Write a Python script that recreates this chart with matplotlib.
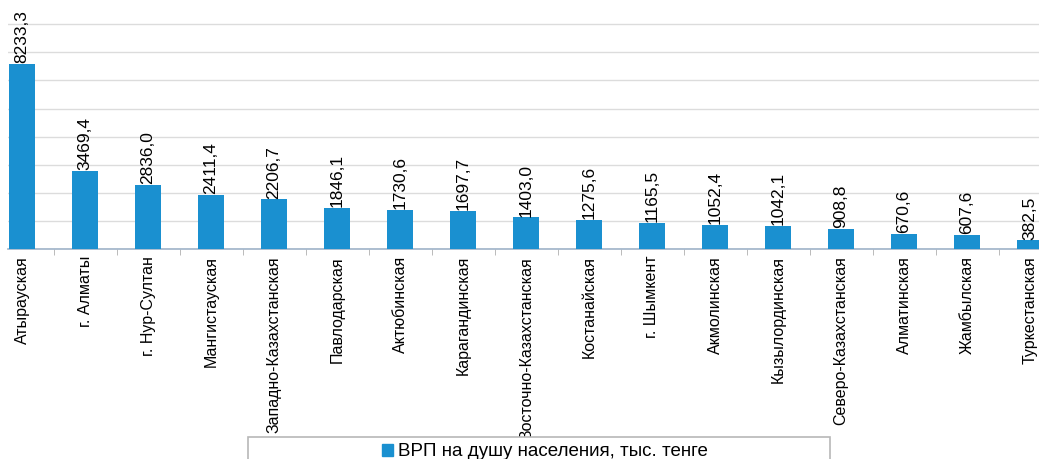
import matplotlib.pyplot as plt
import matplotlib.patches as mpatches
from matplotlib.ticker import MultipleLocator, FixedLocator

# regions and GRP per capita, thousand tenge
regions = ['Атырауская', 'г. Алматы', 'г. Нур-Султан', 'Мангистауская',
           'Западно-Казахстанская', 'Павлодарская', 'Актюбинская',
           'Карагандинская', 'Восточно-Казахстанская', 'Костанайская',
           'г. Шымкент', 'Акмолинская', 'Кызылординская',
           'Северо-Казахстанская', 'Алматинская', 'Жамбылская',
           'Туркестанская']
values = [8233.3, 3469.4, 2836.0, 2411.4, 2206.7, 1846.1, 1730.6, 1697.7,
          1403.0, 1275.6, 1165.5, 1052.4, 1042.1, 908.8, 670.6, 607.6, 382.5]
labels = [f'{v:.1f}'.replace('.', ',') for v in values]

W, H = 1039, 459
fig = plt.figure(figsize=(W / 100, H / 100), dpi=100)
ax = fig.add_axes([8 / W, 1 - 249 / H, 1 - 8 / W, (249 - 15) / H])

color = '#1a90d0'
x = list(range(len(regions)))
bars = ax.bar(x, values, width=0.41, color=color, zorder=3)

ax.set_xlim(-14 / 63, -14 / 63 + (W - 8) / 63)
ax.set_ylim(0, 234 * 44.5)
ax.yaxis.set_major_locator(MultipleLocator(1250))
ax.grid(axis='y', color='#dcdcdc', linewidth=1, zorder=0)
ax.set_yticklabels([])
ax.tick_params(axis='y', length=0)

for s in ['top', 'right', 'left']:
    ax.spines[s].set_visible(False)
ax.spines['bottom'].set_color('#9fb3c8')
ax.spines['bottom'].set_linewidth(1.2)

ax.set_xticks(x)
ax.set_xticklabels(regions, rotation=90, fontsize=11.5, family='Liberation Sans',
                   va='top')
ax.tick_params(axis='x', length=0, pad=5)
ax.xaxis.set_minor_locator(FixedLocator([i + 0.5 for i in x]))
ax.tick_params(axis='x', which='minor', length=4, color='#b0b0b0',
               direction='out')

for b, lab in zip(bars, labels):
    ax.text(b.get_x() + b.get_width() / 2, b.get_height() + 40, lab,
            rotation=90, ha='center', va='bottom', fontsize=12.5,
            family='Liberation Sans', clip_on=False, zorder=4)

# legend box, cut by the bottom edge like the source
box = mpatches.Rectangle((248 / W, -0.02), (830 - 248) / W, (459 - 437) / H + 0.02,
                         transform=fig.transFigure, facecolor='white',
                         edgecolor='#b8b8b8', linewidth=1.2)
fig.patches.append(box)
handle = mpatches.Patch(color=color, label='ВРП на душу населения, тыс. тенге')
fig.legend(handles=[handle], loc='center', bbox_to_anchor=(545 / W, 1 - 452 / H),
           frameon=False, prop={'family': 'Liberation Sans', 'size': 13.5},
           handlelength=0.6, handleheight=0.6, handletextpad=0.3)

fig.savefig('out.png', dpi=100)
